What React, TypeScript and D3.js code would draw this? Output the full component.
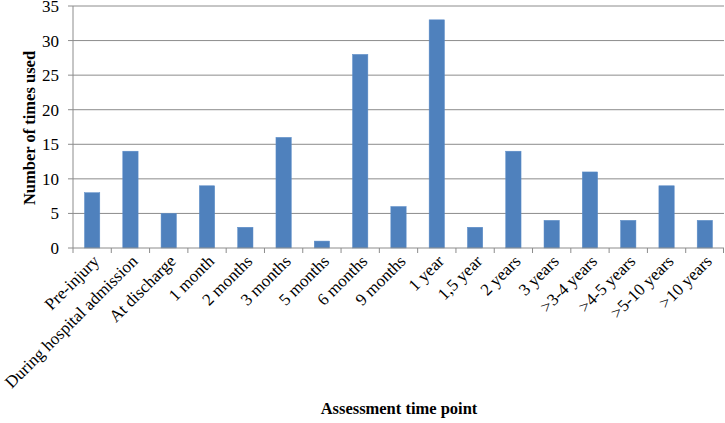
import React from "react";
import * as d3 from "d3";

const categories = [
  "Pre-injury",
  "During hospital admission",
  "At discharge",
  "1 month",
  "2 months",
  "3 months",
  "5 months",
  "6 months",
  "9 months",
  "1 year",
  "1,5 year",
  "2 years",
  "3 years",
  ">3-4 years",
  ">4-5 years",
  ">5-10 years",
  ">10 years",
];
const values = [8, 14, 5, 9, 3, 16, 1, 28, 6, 33, 3, 14, 4, 11, 4, 9, 4];
const yTicks = [0, 5, 10, 15, 20, 25, 30, 35];

const W = 725;
const H = 423;
const margin = { left: 73, right: 1, top: 6, bottom: H - 248 };
const font = "'Liberation Serif', 'Times New Roman', serif";

export default function App() {
  const x = d3
    .scaleBand<string>()
    .domain(categories)
    .range([margin.left, W - margin.right])
    .paddingInner(0.6)
    .paddingOuter(0.3);
  const xStep = d3
    .scaleBand<string>()
    .domain(categories)
    .range([margin.left, W - margin.right]);
  const y = d3.scaleLinear().domain([0, 35]).range([H - margin.bottom, margin.top]);
  const y0 = y(0);

  return (
    <svg
      width={W}
      height={H}
      style={{ position: "absolute", left: 0, top: 0, background: "#fff" }}
      fontFamily={font}
    >
      {yTicks.map((t) => (
        <g key={t}>
          {t > 0 && (
            <line x1={margin.left} x2={W - margin.right} y1={y(t)} y2={y(t)} stroke="#8c8c8c" strokeWidth={1} />
          )}
          <line x1={margin.left - 5} x2={margin.left} y1={y(t)} y2={y(t)} stroke="#8c8c8c" />
          <text x={margin.left - 14} y={y(t)} dy="0.35em" textAnchor="end" fontSize={17} fill="#000">
            {t}
          </text>
        </g>
      ))}
      {categories.map((c, i) => (
        <rect
          key={c}
          x={x(c)}
          y={y(values[i])}
          width={x.bandwidth()}
          height={y0 - y(values[i])}
          fill="#4f81bd"
          stroke="#5b8cc8"
          strokeWidth={0.5}
        />
      ))}
      <line x1={margin.left} x2={margin.left} y1={margin.top} y2={y0} stroke="#8c8c8c" />
      <line x1={margin.left} x2={W - margin.right} y1={y0} y2={y0} stroke="#8c8c8c" />
      {categories.map((c) => (
        <line key={"t" + c} x1={xStep(c)} x2={xStep(c)} y1={y0} y2={y0 + 5} stroke="#8c8c8c" />
      ))}
      <line x1={W - margin.right - 0.5} x2={W - margin.right - 0.5} y1={y0} y2={y0 + 5} stroke="#8c8c8c" />
      {categories.map((c) => {
        const cx = (xStep(c) as number) + xStep.bandwidth() / 2 + 4;
        const cy = y0 + 10;
        return (
          <text
            key={"l" + c}
            x={cx}
            y={cy}
            textAnchor="end"
            fontSize={17}
            fill="#000"
            transform={`rotate(-45, ${cx}, ${cy})`}
            dy="0.35em"
          >
            {c}
          </text>
        );
      })}
      <text
        x={29}
        y={128}
        textAnchor="middle"
        fontSize={16.5}
        fontWeight="bold"
        transform="rotate(-90, 29, 128)"
        dy="0.35em"
      >
        Number of times used
      </text>
      <text x={399} y={414} textAnchor="middle" fontSize={16.5} fontWeight="bold">
        Assessment time point
      </text>
    </svg>
  );
}
